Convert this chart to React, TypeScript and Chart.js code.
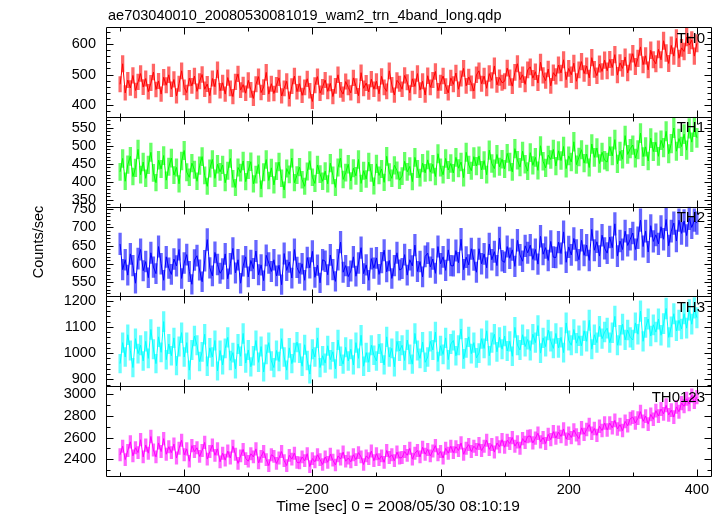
import React, { useEffect, useRef } from "react";
import { Chart, registerables } from "chart.js";

Chart.register(...registerables);

const TITLE = "ae703040010_20080530081019_wam2_trn_4band_long.qdp";
const X_LABEL = "Time [sec] 0 = 2008/05/30 08:10:19";
const Y_LABEL = "Counts/sec";

// time bins: first bin centre and bin width (sec)
const T_START = -500;
const T_BIN = 4;
const X_MIN = -522;
const X_MAX = 422;
const X_LABEL_TICKS = [-400, -200, 0, 200, 400];
const X_MINOR_STEP = 100;

const PANEL_NAMES = ["TH0", "TH1", "TH2", "TH3", "TH0123"];
const PANEL_COLORS = ["#ff0000", "#00ff00", "#0000ff", "#00ffff", "#ff00ff"];
const PANEL_ERR_COLORS = [
  "rgba(255,0,0,0.6)",
  "rgba(0,255,0,0.6)",
  "rgba(0,0,255,0.6)",
  "rgba(0,255,255,0.6)",
  "rgba(255,0,255,0.6)",
];
const Y_MIN = [362, 332, 512, 874, 2243];
const Y_MAX = [655, 580, 757, 1216, 3077];
const Y_MAJOR_STEP = [100, 50, 50, 100, 200];
const Y_MINOR_STEP = [20, 10, 10, 20, 100];
// error bar half-length relative to sqrt(rate)
const ERR_SCALE = 1.15;

const TH0 = [
  468, 535, 440, 482, 456, 497, 448, 476, 503, 459,
  487, 444, 472, 508, 451, 479, 436, 491, 465, 499,
  452, 484, 430, 470, 512, 458, 441, 488, 463, 495,
  445, 478, 500, 452, 469, 431, 487, 460, 515, 447,
  473, 436, 490, 455, 428, 476, 502, 449, 467, 439,
  481, 450, 422, 468, 493, 441, 459, 507, 436, 470,
  438, 466, 489, 430, 455, 478, 420, 462, 495, 444,
  470, 432, 458, 486, 447, 412, 465, 493, 439, 460,
  482, 445, 471, 428, 463, 499, 450, 436, 477, 458,
  440, 489, 462, 431, 506, 455, 472, 443, 485, 452,
  478, 437, 494, 458, 445, 512, 466, 433, 481, 470,
  452, 497, 475, 440, 486, 461, 503, 449, 478, 433,
  496, 458, 482, 510, 447, 473, 495, 462, 440, 489,
  468, 505, 452, 487, 520, 463, 492, 471, 446, 499,
  512, 470, 495, 455, 503, 481, 528, 466, 490, 473,
  478, 521, 490, 462, 507, 535, 483, 499, 468, 515,
  525, 488, 509, 472, 540, 497, 480, 518, 463, 506,
  494, 531, 505, 548, 483, 520, 499, 537, 478, 515,
  542, 503, 528, 489, 555, 517, 496, 534, 510, 547,
  512, 549, 523, 565, 498, 538, 520, 557, 505, 541,
  568, 526, 553, 590, 532, 561, 515, 579, 548, 535,
  582, 548, 610, 570, 536, 595, 560, 618, 553, 587,
  575, 622, 596, 612, 560, 602,
];

const TH1 = [
  428, 465, 402, 448, 471, 415, 439, 490, 420, 455,
  410, 447, 482, 425, 398, 460, 436, 473, 405, 442,
  466, 419, 440, 395, 458, 487, 427, 413, 452, 434,
  402, 445, 470, 418, 388, 437, 462, 410, 449, 428,
  447, 398, 431, 465, 409, 385, 440, 426, 458, 401,
  433, 456, 395, 420, 448, 381, 427, 462, 404, 439,
  392, 430, 455, 410, 378, 437, 421, 466, 398, 419,
  441, 406, 388, 429, 459, 413, 396, 447, 422, 402,
  430, 395, 452, 418, 385, 440, 466, 407, 426, 449,
  403, 438, 417, 462, 396, 431, 408, 455, 425, 389,
  450, 418, 436, 399, 471, 427, 410, 446, 432, 405,
  416, 457, 428, 443, 401, 468, 436, 412, 452, 425,
  461, 427, 449, 415, 478, 440, 420, 465, 433, 451,
  425, 468, 438, 455, 412, 482, 447, 431, 470, 444,
  472, 433, 459, 420, 488, 451, 437, 476, 442, 463,
  436, 479, 455, 428, 492, 460, 441, 485, 449, 430,
  481, 446, 468, 432, 500, 457, 439, 474, 462, 490,
  444, 486, 459, 498, 437, 472, 455, 511, 448, 469,
  489, 452, 477, 440, 505, 468, 494, 451, 482, 460,
  455, 498, 472, 517, 450, 485, 463, 528, 476, 492,
  502, 466, 489, 535, 470, 497, 458, 521, 484, 510,
  471, 515, 495, 540, 478, 506, 549, 485, 520, 498,
  532, 488, 548, 510, 552, 522,
];

const TH2 = [
  655, 585, 612, 570, 628, 596, 548, 615, 640, 582,
  607, 563, 631, 592, 574, 648, 601, 556, 620, 589,
  572, 614, 595, 640, 561, 603, 626, 580, 545, 611,
  623, 584, 552, 609, 667, 590, 568, 632, 599, 575,
  587, 628, 560, 601, 643, 576, 612, 548, 595, 620,
  565, 610, 588, 636, 571, 598, 555, 624, 603, 580,
  612, 568, 597, 544, 629, 583, 606, 562, 640, 591,
  575, 601, 556, 618, 590, 635, 564, 597, 549, 612,
  608, 571, 625, 585, 553, 612, 660, 578, 596, 566,
  581, 620, 567, 603, 645, 574, 598, 556, 615, 589,
  617, 572, 604, 638, 579, 610, 561, 596, 631, 584,
  588, 626, 570, 612, 595, 652, 580, 607, 565, 621,
  630, 592, 614, 575, 648, 601, 620, 583, 639, 596,
  595, 637, 604, 668, 585, 619, 598, 642, 611, 578,
  642, 601, 628, 590, 655, 612, 634, 596, 671, 609,
  605, 648, 616, 639, 594, 665, 625, 608, 650, 631,
  652, 613, 640, 600, 676, 627, 645, 610, 662, 619,
  618, 660, 629, 688, 605, 647, 625, 670, 638, 612,
  665, 624, 652, 610, 695, 638, 661, 622, 679, 643,
  630, 674, 645, 710, 622, 663, 640, 690, 651, 668,
  685, 640, 672, 720, 648, 690, 633, 705, 662, 680,
  655, 702, 668, 722, 650, 690, 712, 663, 720, 684,
  718, 678, 725, 700, 720, 712,
];

const TH3 = [
  960, 1040, 985, 1070, 1010, 945, 1055, 998, 1030, 970,
  1045, 980, 1090, 1015, 960, 1062, 1003, 1120, 975, 1035,
  990, 1058, 952, 1025, 1078, 985, 1040, 935, 1012, 1065,
  1030, 968, 1005, 1072, 950, 1020, 985, 1048, 932, 1010,
  955, 1018, 1060, 972, 1002, 940, 1035, 988, 1075, 962,
  1012, 948, 990, 1048, 965, 1025, 928, 995, 1040, 970,
  945, 1010, 968, 1055, 985, 935, 1020, 960, 1002, 1042,
  1000, 950, 1032, 972, 920, 1015, 985, 1058, 945, 990,
  962, 1028, 975, 1005, 940, 1050, 988, 958, 1022, 970,
  1015, 955, 1040, 980, 1068, 950, 1002, 965, 1030, 992,
  970, 1035, 1000, 955, 1062, 985, 1018, 948, 1045, 1008,
  1030, 972, 1050, 995, 958, 1075, 1010, 980, 1042, 965,
  985, 1045, 1012, 1080, 968, 1028, 995, 1058, 975, 1035,
  1048, 990, 1030, 1092, 978, 1020, 1062, 998, 1040, 982,
  1000, 1055, 1018, 1085, 990, 1040, 1072, 1005, 1060, 1015,
  1065, 1008, 1045, 988, 1098, 1030, 1012, 1070, 1025, 1052,
  1010, 1072, 1040, 1105, 1000, 1058, 1025, 1088, 1045, 1018,
  1075, 1020, 1060, 1002, 1115, 1048, 1030, 1090, 1038, 1066,
  1028, 1085, 1045, 1125, 1015, 1070, 1040, 1102, 1055, 1080,
  1095, 1040, 1078, 1140, 1030, 1068, 1110, 1050, 1088, 1060,
  1050, 1115, 1072, 1160, 1045, 1098, 1130, 1065, 1108, 1080,
  1130, 1068, 1112, 1170, 1060, 1100, 1150, 1085, 1125, 1092,
  1150, 1095, 1165, 1110, 1172, 1135,
];

const TH0123 = [
  2440, 2520, 2395, 2480, 2560, 2430, 2505, 2460, 2580, 2420,
  2530, 2455, 2610, 2485, 2420, 2550, 2470, 2590, 2445, 2515,
  2460, 2540, 2410, 2500, 2575, 2440, 2495, 2380, 2525, 2470,
  2505, 2425, 2480, 2555, 2400, 2470, 2530, 2435, 2495, 2375,
  2455, 2390, 2475, 2410, 2520, 2445, 2360, 2430, 2490, 2405,
  2380, 2450, 2420, 2495, 2365, 2425, 2470, 2395, 2340, 2440,
  2425, 2360, 2410, 2470, 2385, 2340, 2435, 2400, 2455, 2370,
  2365, 2420, 2385, 2450, 2330, 2405, 2375, 2440, 2395, 2350,
  2420, 2370, 2445, 2390, 2345, 2430, 2400, 2465, 2380, 2410,
  2375, 2440, 2395, 2460, 2420, 2350, 2430, 2405, 2475, 2385,
  2450, 2395, 2430, 2370, 2480, 2415, 2440, 2385, 2465, 2410,
  2415, 2470, 2435, 2500, 2400, 2455, 2480, 2420, 2510, 2445,
  2490, 2430, 2475, 2525, 2440, 2470, 2410, 2500, 2455, 2520,
  2460, 2515, 2480, 2550, 2445, 2500, 2535, 2470, 2520, 2490,
  2545, 2480, 2520, 2575, 2490, 2535, 2465, 2550, 2515, 2580,
  2510, 2575, 2545, 2600, 2520, 2560, 2500, 2590, 2555, 2610,
  2615, 2550, 2595, 2640, 2560, 2600, 2545, 2630, 2580, 2655,
  2595, 2650, 2610, 2680, 2585, 2640, 2600, 2670, 2625, 2590,
  2690, 2630, 2675, 2720, 2640, 2685, 2620, 2705, 2665, 2735,
  2670, 2735, 2690, 2760, 2680, 2720, 2665, 2750, 2710, 2775,
  2790, 2735, 2780, 2840, 2750, 2800, 2725, 2815, 2770, 2850,
  2800, 2865, 2820, 2900, 2810, 2855, 2790, 2885, 2840, 2920,
  2890, 2960, 2910, 2990, 2930, 2975,
];

const SERIES = [TH0, TH1, TH2, TH3, TH0123];

const FONT = '"Liberation Sans", Arial, Helvetica, sans-serif';

const qdpPlugin = {
  id: "qdpFrame",
  afterDatasetsDraw(chart: any) {
    const ctx: CanvasRenderingContext2D = chart.ctx;
    const area = chart.chartArea;
    const xs = chart.scales.x;
    const L = Math.round(area.left) + 0.5;
    const R = Math.round(area.right) + 0.5;
    ctx.save();
    ctx.strokeStyle = "#000";
    ctx.lineWidth = 1;
    PANEL_NAMES.forEach((name, i) => {
      const ys = chart.scales["y" + i];
      const top = Math.round(ys.top) + 0.5;
      const bottom = Math.round(ys.bottom) + 0.5;
      ctx.beginPath();
      ctx.rect(L, top, R - L, bottom - top);
      ctx.stroke();
      ctx.beginPath();
      const st = Y_MINOR_STEP[i];
      for (let v = Math.ceil(Y_MIN[i] / st) * st; v <= Y_MAX[i]; v += st) {
        const len = v % Y_MAJOR_STEP[i] === 0 ? 7 : 4;
        const y = Math.round(ys.getPixelForValue(v)) + 0.5;
        ctx.moveTo(L, y);
        ctx.lineTo(L + len, y);
        ctx.moveTo(R, y);
        ctx.lineTo(R - len, y);
      }
      for (let v = Math.ceil(X_MIN / X_MINOR_STEP) * X_MINOR_STEP; v <= X_MAX; v += X_MINOR_STEP) {
        const len = v % 200 === 0 ? 7 : 4;
        const x = Math.round(xs.getPixelForValue(v)) + 0.5;
        ctx.moveTo(x, top);
        ctx.lineTo(x, top + len);
        ctx.moveTo(x, bottom);
        ctx.lineTo(x, bottom - len);
      }
      ctx.stroke();
      ctx.fillStyle = "#000";
      ctx.font = "15px " + FONT;
      ctx.textAlign = "right";
      ctx.textBaseline = "alphabetic";
      ctx.fillText(name, area.right - 6, ys.top + 15.5);
    });
    ctx.restore();
  },
  afterDraw(chart: any) {
    const ctx: CanvasRenderingContext2D = chart.ctx;
    ctx.save();
    ctx.fillStyle = "#000";
    ctx.font = "14.5px " + FONT;
    ctx.textBaseline = "alphabetic";
    ctx.textAlign = "left";
    ctx.fillText(TITLE, 108, 20);
    ctx.font = "15.5px " + FONT;
    ctx.textAlign = "center";
    ctx.fillText(X_LABEL, 398, 511);
    ctx.font = "14.5px " + FONT;
    ctx.translate(43, 242);
    ctx.rotate(-Math.PI / 2);
    ctx.fillText(Y_LABEL, 0, 0);
    ctx.restore();
  },
};

export default function App() {
  const ref = useRef<HTMLCanvasElement>(null);
  useEffect(() => {
    const canvas = ref.current;
    if (!canvas) return;
    const datasets: any[] = [];
    SERIES.forEach((vals, i) => {
      datasets.push({
        type: "line",
        data: vals.map((v, j) => ({ x: T_START + j * T_BIN, y: v })),
        xAxisID: "x",
        yAxisID: "y" + i,
        borderColor: PANEL_COLORS[i],
        borderWidth: 1,
        pointRadius: 0,
        tension: 0,
        order: 1,
      });
      datasets.push({
        type: "bar",
        data: vals.map((v, j) => {
          const e = ERR_SCALE * Math.sqrt(v);
          return { x: T_START + j * T_BIN, y: [v - e, v + e] };
        }),
        xAxisID: "x",
        yAxisID: "y" + i,
        backgroundColor: PANEL_ERR_COLORS[i],
        barThickness: 2.6,
        grouped: false,
        order: 2,
      });
    });
    const scales: any = {
      x: {
        type: "linear",
        position: "bottom",
        min: X_MIN,
        max: X_MAX,
        offset: false,
        grid: { display: false, drawTicks: false },
        border: { display: false },
        afterBuildTicks: (s: any) => {
          s.ticks = X_LABEL_TICKS.map((v) => ({ value: v }));
        },
        afterFit: (s: any) => {
          s.height = 40;
        },
        ticks: {
          autoSkip: false,
          maxRotation: 0,
          padding: 5,
          color: "#000",
          font: { family: FONT, size: 14.5 },
          callback: (v: any) => (Number(v) < 0 ? "\u2212" + Math.abs(Number(v)) : String(v)),
        },
      },
    };
    PANEL_NAMES.forEach((_n, i) => {
      scales["y" + i] = {
        type: "linear",
        position: "left",
        stack: "panels",
        stackWeight: 1,
        weight: PANEL_NAMES.length - i,
        min: Y_MIN[i],
        max: Y_MAX[i],
        offset: false,
        grid: { display: false, drawTicks: false },
        border: { display: false },
        afterBuildTicks: (s: any) => {
          const t: any[] = [];
          const st = Y_MAJOR_STEP[i];
          for (let v = Math.ceil(Y_MIN[i] / st) * st; v <= Y_MAX[i]; v += st) t.push({ value: v });
          s.ticks = t;
        },
        afterFit: (s: any) => {
          s.width = 106;
        },
        ticks: {
          autoSkip: false,
          padding: 10,
          color: "#000",
          font: { family: FONT, size: 14.5 },
          callback: (v: any) => String(v),
        },
      };
    });
    const chart = new Chart(canvas, {
      type: "line",
      data: { datasets },
      options: {
        animation: false,
        responsive: true,
        maintainAspectRatio: false,
        events: [],
        layout: { padding: { top: 27, right: 12, left: 0, bottom: 0 } },
        plugins: { legend: { display: false }, tooltip: { enabled: false } },
        scales,
      },
      plugins: [qdpPlugin],
    } as any);
    return () => chart.destroy();
  }, []);
  return (
    <div style={{ position: "absolute", left: 0, top: 0, width: 723, height: 516, background: "#fff" }}>
      <canvas ref={ref} />
    </div>
  );
}
